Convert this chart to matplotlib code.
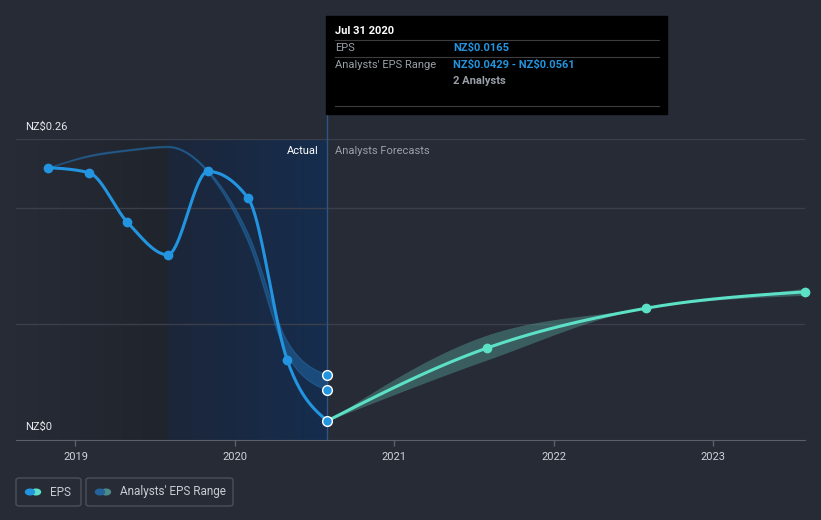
import numpy as np
import pandas as pd
import matplotlib
matplotlib.use('Agg')
import matplotlib.pyplot as plt
from matplotlib.patches import Rectangle, FancyBboxPatch, Circle
from matplotlib.lines import Line2D

plt.rcParams['font.family'] = ['Roboto', 'DejaVu Sans']

# ---- data ----
hist_dates = ['2018-10-31', '2019-01-31', '2019-04-30', '2019-07-31',
              '2019-10-31', '2020-01-31', '2020-04-30', '2020-07-31']
hist_eps = [0.2353, 0.231, 0.188, 0.160, 0.232, 0.209, 0.069, 0.0165]
hist_range_hi = [0.2353, 0.246, 0.251, 0.254, 0.233, 0.178, 0.085, 0.0561]
hist_range_lo = [0.2353, 0.245, 0.250, 0.253, 0.231, 0.171, 0.073, 0.0429]

fc_dates = ['2020-07-31', '2021-07-31', '2022-07-31', '2023-07-31']
fc_eps = [0.0165, 0.0793, 0.1138, 0.128]
fc_range_hi = [0.0165, 0.0905, 0.1138, 0.131]
fc_range_lo = [0.0165, 0.069, 0.1138, 0.125]

year_ticks = [2019, 2020, 2021, 2022, 2023]

BG = '#262b36'
BLUE = '#2394df'
TEAL = '#5ce0c6'
W, H = 821, 520


def to_year(dates):
    d = pd.to_datetime(pd.Series(dates))
    days = np.where(d.dt.is_leap_year, 366.0, 365.0)
    return (d.dt.year + (d.dt.dayofyear - 1) / days).to_numpy()


def monotone(xs, ys, n=40):
    xs = np.asarray(xs, float)
    ys = np.asarray(ys, float)
    h = np.diff(xs)
    s = np.diff(ys) / h
    t = np.zeros(len(xs))
    for i in range(1, len(xs) - 1):
        p = (s[i - 1] * h[i] + s[i] * h[i - 1]) / (h[i - 1] + h[i])
        t[i] = (np.sign(s[i - 1]) + np.sign(s[i])) * min(abs(s[i - 1]), abs(s[i]), 0.5 * abs(p))
    t[0] = (3 * s[0] - t[1]) / 2
    t[-1] = (3 * s[-1] - t[-2]) / 2
    ox, oy = [], []
    for i in range(len(xs) - 1):
        u = np.linspace(0, 1, n, endpoint=(i == len(xs) - 2))
        h00 = 2 * u**3 - 3 * u**2 + 1
        h10 = u**3 - 2 * u**2 + u
        h01 = -2 * u**3 + 3 * u**2
        h11 = u**3 - u**2
        ox.append(xs[i] + u * h[i])
        oy.append(h00 * ys[i] + h10 * h[i] * t[i] + h01 * ys[i + 1] + h11 * h[i] * t[i + 1])
    return np.concatenate(ox), np.concatenate(oy)


hx = to_year(hist_dates)
fx = to_year(fc_dates)

fig = plt.figure(figsize=(W / 100, H / 100), dpi=100, facecolor=BG)
ax = fig.add_axes([16 / W, 1 - 440 / H, (805 - 16) / W, (440 - 139) / H])
ax.set_facecolor(BG)
x0, x1 = 2018.627, 2023.575
ax.set_xlim(x0, x1)
ax.set_ylim(0, 0.26)

# shaded past regions
grad = np.linspace(0, 1, 256).reshape(1, -1)
c_a = np.array(matplotlib.colors.to_rgb(BG))
c_b = np.array(matplotlib.colors.to_rgb('#20242c'))
img1 = c_a + (c_b - c_a) * grad[..., None]
ax.imshow(img1, extent=[x0, hx[3], 0, 0.26], aspect='auto', zorder=0)
c_c = np.array(matplotlib.colors.to_rgb('#1c2639'))
c_d = np.array(matplotlib.colors.to_rgb('#162d4e'))
img2 = c_c + (c_d - c_c) * grad[..., None]
ax.imshow(img2, extent=[hx[3], hx[-1], 0, 0.26], aspect='auto', zorder=0)

# grid
for gy in [0.1, 0.2, 0.26]:
    ax.axhline(gy, color='#3a3f4b', lw=1, zorder=1)

# ranges
bx, bh = monotone(hx, hist_range_hi)
_, bl = monotone(hx, hist_range_lo)
ax.fill_between(bx, bl, bh, color='#2373b5', alpha=0.45, lw=0.9, edgecolor='#2373b5', zorder=2)
fbx, fbh = monotone(fx, fc_range_hi)
_, fbl = monotone(fx, fc_range_lo)
ax.fill_between(fbx, fbl, fbh, color='#5aa9a0', alpha=0.4, lw=0, zorder=2)

# hover line
ax.axvline(hx[-1], color='#2c5687', lw=1, zorder=2)

# eps lines
ex, ey = monotone(hx, hist_eps)
ax.plot(ex, ey, color=BLUE, lw=2.2, zorder=3, solid_capstyle='round')
ax.plot(hx[:-1], hist_eps[:-1], 'o', color=BLUE, ms=6, zorder=4)
fex, fey = monotone(fx, fc_eps)
ax.plot(fex, fey, color=TEAL, lw=2.2, zorder=3, solid_capstyle='round')
ax.plot(fx[1:], fc_eps[1:], 'o', color=TEAL, ms=6, zorder=4, clip_on=False)
ax.plot([hx[-1]] * 3, [hist_eps[-1], hist_range_lo[-1], hist_range_hi[-1]], 'o',
        color=BLUE, mec='white', mew=1, ms=7, zorder=5)

# axes styling
for sp in ['top', 'left', 'right']:
    ax.spines[sp].set_visible(False)
ax.spines['bottom'].set_color('#5b606b')
ax.set_yticks([])
ax.set_xticks(year_ticks)
ax.set_xticklabels([str(y) for y in year_ticks])
ax.tick_params(axis='x', colors='#5b606b', labelcolor='#d0d3d8', length=4, width=1,
               labelsize=8, pad=5)

# text labels
def ftext(px, py, s, **kw):
    fig.text(px / W, 1 - py / H, s, parse_math=False, **kw)

ftext(25, 127, 'NZ$0.26', color='#e6e8eb', fontsize=8, va='center')
ftext(25, 427, 'NZ$0', color='#e6e8eb', fontsize=8, va='center')
ftext(319, 151, 'Actual', color='#ffffff', fontsize=8, va='center', ha='right')
ftext(335, 151, 'Analysts Forecasts', color='#9aa0a8', fontsize=8, va='center')

# tooltip
fig.add_artist(Line2D([327 / W, 327 / W], [1 - 139 / H, 1 - 114 / H], color='#2c5687', lw=1))
fig.add_artist(Rectangle((326 / W, 1 - 114 / H), 341 / W, 98 / H, color='#000000', zorder=10))
for ly in [40, 57, 106]:
    fig.add_artist(Line2D([335 / W, 659 / W], [1 - ly / H] * 2, color='#3d3d3d', lw=0.8, zorder=11))
ftext(335, 31, 'Jul 31 2020', color='white', fontsize=8, fontweight='bold', va='center', zorder=12)
ftext(335, 48, 'EPS', color='#9aa0a8', fontsize=8, va='center', zorder=12)
ftext(453, 48, 'NZ$0.0165', color=BLUE, fontsize=8, fontweight='bold', va='center', zorder=12)
ftext(335, 65, "Analysts' EPS Range", color='#9aa0a8', fontsize=8, va='center', zorder=12)
ftext(453, 65, 'NZ$0.0429 - NZ$0.0561', color=BLUE, fontsize=8, fontweight='bold', va='center', zorder=12)
ftext(453, 81, '2 Analysts', color='#9aa0a8', fontsize=8, fontweight='bold', va='center', zorder=12)

# legend
def legend_box(px0, px1, label, c1, c2):
    fig.add_artist(FancyBboxPatch((px0 / W, 1 - 506 / H), (px1 - px0) / W, 28 / H,
                                  boxstyle='round,pad=0,rounding_size=0.004',
                                  fc='none', ec='#4a4f5a', lw=1))
    for cx, c in [(px0 + 20, c2), (px0 + 14, c1)]:
        fig.add_artist(Circle((cx / W, 1 - 492 / H), 4.5 / W, color=c))
    ftext(px0 + 34, 492, label, color='#c8ccd2', fontsize=8.5, va='center')

legend_box(16, 81, 'EPS', BLUE, TEAL)
legend_box(86, 233, "Analysts' EPS Range", '#24639a', '#4c8b89')

fig.savefig('out.png', dpi=100, facecolor=BG)
